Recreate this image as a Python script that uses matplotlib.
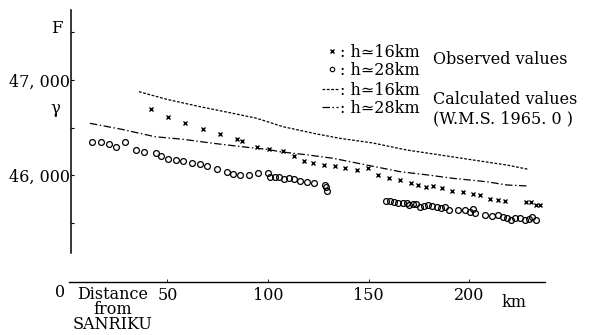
import matplotlib
matplotlib.use("Agg")
import matplotlib.pyplot as plt
from matplotlib.lines import Line2D

plt.rcParams['font.family'] = ['DejaVu Serif']
plt.rcParams['font.size'] = 11.5

# observed, h ~ 16 km (crosses)
obs16_km = [41.8, 50.1, 58.7, 67.5, 76.1, 84.4, 87.2, 94.7, 100.6, 107.3, 113.1,
            117.9, 122.5, 128.0, 133.3, 138.5, 144.3, 149.9, 154.9, 160.4, 165.7,
            170.9, 174.6, 178.6, 181.9, 186.4, 191.4, 196.9, 201.8, 205.5, 210.2,
            214.3, 217.9, 228.5, 230.7, 233.1, 235.3]
obs16_F = [46692, 46614, 46544, 46484, 46432, 46379, 46361, 46298, 46271, 46256, 46200,
           46147, 46129, 46105, 46092, 46074, 46053, 46079, 46005, 45968, 45947,
           45913, 45895, 45877, 45881, 45860, 45835, 45818, 45798, 45789, 45747,
           45737, 45726, 45719, 45719, 45684, 45684]

# observed, h ~ 28 km (circles)
obs28_km = [12.6, 16.9, 21.0, 24.4, 29.1, 34.3, 38.4, 44.3, 46.9, 50.2, 54.1, 57.9,
            62.2, 66.0, 69.7, 74.6, 79.5, 82.7, 86.2, 90.7, 94.8, 100.1, 101.2,
            103.5, 105.6, 107.8, 110.5, 112.9, 116.1, 119.3, 123.1, 128.2, 128.6,
            129.1, 158.7, 160.7, 162.7, 164.8, 167.0, 169.0, 170.3, 172.0, 173.6,
            175.5, 177.5, 179.5, 181.7, 183.9, 186.1, 188.1, 190.2, 194.7, 198.0,
            200.3, 202.1, 203.0, 208.0, 211.3, 214.3, 216.8, 218.9, 220.7, 222.9,
            225.5, 227.9, 229.8, 231.4, 233.3]
obs28_F = [46351, 46344, 46323, 46300, 46351, 46263, 46244, 46229, 46197, 46171, 46158,
           46144, 46126, 46111, 46095, 46061, 46035, 46014, 46000, 46000, 46018, 46024,
           45982, 45982, 45979, 45956, 45968, 45956, 45934, 45926, 45916, 45900, 45879,
           45832, 45730, 45726, 45719, 45702, 45708, 45708, 45684, 45695, 45695,
           45660, 45671, 45684, 45674, 45666, 45655, 45660, 45632, 45632, 45632,
           45614, 45639, 45597, 45579, 45568, 45579, 45555, 45544, 45526, 45544,
           45544, 45526, 45539, 45561, 45526]

# calculated (W.M.S. 1965.0)
calc16_km = [35.8, 49.6, 66.2, 82.6, 94.4, 107.5, 124.2, 135.8, 152.2, 169.0, 185.6,
             202.0, 218.8, 229.5]
calc16_F = [46877, 46797, 46719, 46649, 46597, 46508, 46432, 46386, 46337, 46263,
            46211, 46158, 46105, 46060]
calc28_km = [11.4, 27.2, 43.8, 57.7, 72.6, 89.4, 99.4, 106.0, 119.9, 132.3, 149.1,
             165.7, 179.6, 192.0, 208.8, 218.8, 229.4]
calc28_F = [46544, 46481, 46403, 46376, 46334, 46292, 46271, 46245, 46211, 46176,
            46105, 46035, 46000, 45965, 45929, 45895, 45884]

xticks = [50, 100, 150, 200]
yticks = [45500, 46000, 46500, 47000, 47500]
ytick_labels = ['', '46, 000', '', '47, 000', '']

fig = plt.figure(figsize=(6.1, 3.35), dpi=100)
ax = fig.add_axes([0, 0, 1, 1])
ax.set_xlim(-33.3, 270.1)
ax.set_ylim(44316, 47842)

dash16 = (0, (2.2, 1.3))
dashdot28 = (0, (6, 2, 1.2, 2))
ax.plot(calc16_km, calc16_F, color='black', lw=0.9, ls=dash16)
ax.plot(calc28_km, calc28_F, color='black', lw=0.9, ls=dashdot28)
ax.plot(obs16_km, obs16_F, 'x', color='black', ms=3.2, mew=1.0)
ax.plot(obs28_km, obs28_F, 'o', mfc='none', mec='black', ms=4.2, mew=0.9)

for s in ['top', 'right']:
    ax.spines[s].set_visible(False)
ax.spines['left'].set_position(('data', 2))
ax.spines['left'].set_bounds(45179, 47737)
ax.spines['left'].set_linewidth(1.1)
ax.spines['bottom'].set_position(('data', 44874))
ax.spines['bottom'].set_bounds(1, 238)
ax.spines['bottom'].set_linewidth(1.0)

ax.set_xticks(xticks)
ax.set_xticklabels([str(t) for t in xticks])
ax.set_yticks(yticks)
ax.set_yticklabels(ytick_labels)
ax.tick_params(axis='x', direction='in', length=2, width=0.6, pad=3.5)
ax.tick_params(axis='y', direction='in', length=2.5, width=0.8, pad=0.5)

ax.text(-5, 47537, 'F', ha='center', va='center', fontsize=12)
ax.text(-6, 46705, 'γ', ha='center', va='center', fontsize=12)
ax.text(-3.5, 44760, '0', ha='center', va='center')
ax.text(22.9, 44830, 'Distance\nfrom\nSANRIKU', ha='center', va='top',
        linespacing=0.85)
ax.text(222.4, 44653, 'km', ha='center', va='center')

h_obs = [Line2D([], [], ls='none', marker='x', color='black', ms=3.2, mew=1.0),
         Line2D([], [], ls='none', marker='o', mfc='none', mec='black', ms=3.2, mew=0.8)]
leg1 = ax.legend(h_obs, [': h≃16km', ': h≃28km'], loc='upper left',
                 bbox_to_anchor=(326 / 610, 1 - 44 / 335), frameon=False,
                 handlelength=0.8, handletextpad=0.1, labelspacing=0.05,
                 borderpad=0, borderaxespad=0)
ax.add_artist(leg1)
h_calc = [Line2D([], [], color='black', lw=0.9, ls=dash16),
          Line2D([], [], color='black', lw=0.9, ls=dashdot28)]
ax.legend(h_calc, [': h≃16km', ': h≃28km'], loc='upper left',
          bbox_to_anchor=(322 / 610, 1 - 82 / 335), frameon=False,
          handlelength=1.0, handletextpad=0.1, labelspacing=0.05,
          borderpad=0, borderaxespad=0)

ax.text(433 / 610, 1 - 60 / 335, 'Observed values', transform=ax.transAxes,
        ha='left', va='center')
ax.text(433 / 610, 1 - 100 / 335, 'Calculated values', transform=ax.transAxes,
        ha='left', va='center')
ax.text(433 / 610, 1 - 119 / 335, '(W.M.S. 1965. 0 )', transform=ax.transAxes,
        ha='left', va='center')

fig.savefig('out.png', dpi=100)
